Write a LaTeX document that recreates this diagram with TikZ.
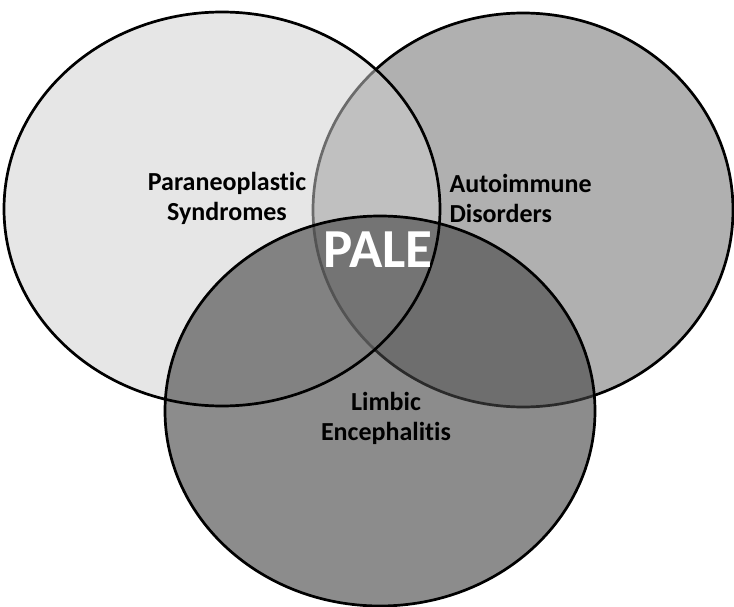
\documentclass[tikz,border=0pt]{standalone}
\usepackage{fontspec}
\setmainfont[Ligatures=NoCommon]{Carlito}
\definecolor{leftgray}{gray}{0.81}
\definecolor{rightgray}{gray}{0.14}
\definecolor{lowgray}{gray}{0.27}
\begin{document}
\begin{tikzpicture}[x=1pt,y=-1pt]
\tikzset{rim/.style={line width=2.7pt,black},
  lbl/.style={font=\bfseries\fontsize{26}{30}\selectfont,align=center}}
\useasboundingbox (0,0) rectangle (734,607);
% right set first, its rim is faded by the left one
\fill [rightgray,fill opacity=0.36](523,210) ellipse [x radius=210,y radius=197];
\draw [rim](523,210) ellipse [x radius=210,y radius=197];
\fill [leftgray,fill opacity=0.52](222,209) ellipse [x radius=218,y radius=197];
\fill [lowgray,fill opacity=0.62](380,411) ellipse [x radius=215,y radius=195];
\draw [rim](222,209) ellipse [x radius=218,y radius=197];
\draw [rim](380,411) ellipse [x radius=215,y radius=195];
\node [lbl] (para) at (227,198) {Paraneoplastic\\Syndromes};
\node [lbl,align=left,anchor=west] (auto) at (446,198) {Autoimmune\\Disorders};
\node [lbl] (limb) at (386,418) {Limbic\\Encephalitis};
\node [font=\bfseries\fontsize{55}{60}\selectfont,white] (pale) at (378,250) {PALE};
\end{tikzpicture}
\end{document}
